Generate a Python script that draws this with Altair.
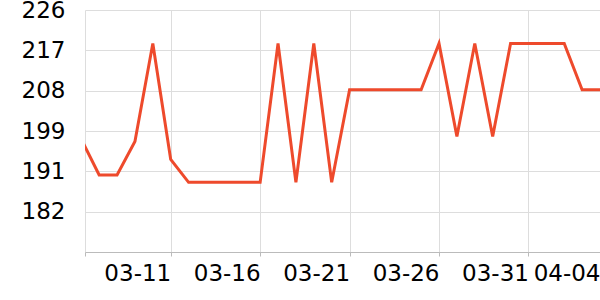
import altair as alt
import pandas as pd

dates = pd.date_range("2024-03-06", "2024-04-04", freq="D").strftime("%Y-%m-%d").tolist()
values = [
    197.6, 189.8, 189.8, 197.1, 218.5, 193.2, 188.2, 188.2, 188.2, 188.2,
    188.2, 218.5, 188.2, 218.5, 188.2, 208.4, 208.4, 208.4, 208.4, 208.4,
    218.5, 198.2, 218.5, 198.2, 218.5, 218.5, 218.5, 218.5, 208.4, 208.4,
]
y_ticks = [181.8, 190.6, 199.4, 208.2, 217.0, 225.8]
y_domain = [173.0, 225.8]
x_domain_start = "2024-03-06T05:00:00Z"
x_domain_end = "2024-04-04T00:00:00Z"
x_ticks = [x_domain_start, "2024-03-11T00:00:00Z", "2024-03-16T00:00:00Z",
           "2024-03-21T00:00:00Z", "2024-03-26T00:00:00Z", "2024-03-31T00:00:00Z",
           "2024-04-04T00:00:00Z"]

df = pd.DataFrame({"date": [d + "T00:00:00Z" for d in dates], "value": values})

FONT = "DejaVu Sans"

chart = alt.Chart(df).mark_line(color="#ee4a2c", strokeWidth=3, clip=True).encode(
    x=alt.X(
        "date:T",
        scale=alt.Scale(type="utc", domain=[x_domain_start, x_domain_end]),
        axis=alt.Axis(
            title=None,
            values=x_ticks,
            labelExpr="datum.index == 0 ? '' : utcFormat(datum.value, '%m-%d')",
            labelAlign="right",
            labelBaseline="top",
            labelFlush=False,
            labelOverlap=False,
            labelFont=FONT,
            labelFontSize=23,
            labelColor="#000000",
            labelPadding=6,
            tickSize=4,
            tickColor="#bbbbbb",
            domainColor="#bbbbbb",
            grid=True,
            gridColor="#dddddd",
        ),
    ),
    y=alt.Y(
        "value:Q",
        scale=alt.Scale(domain=y_domain, nice=False, zero=False),
        axis=alt.Axis(
            title=None,
            values=y_ticks,
            format=".0f",
            domain=False,
            ticks=False,
            labelFont=FONT,
            labelFontSize=23,
            labelColor="#000000",
            labelPadding=20,
            labelBaseline="middle",
            grid=True,
            gridColor="#dddddd",
        ),
    ),
).properties(
    width=515,
    height=242,
    autosize=alt.AutoSizeParams(type="none"),
    padding={"left": 85, "top": 10, "right": 0, "bottom": 48},
).configure_view(stroke=None)

chart.save("out.html", embed_options={"renderer": "svg", "actions": False})
